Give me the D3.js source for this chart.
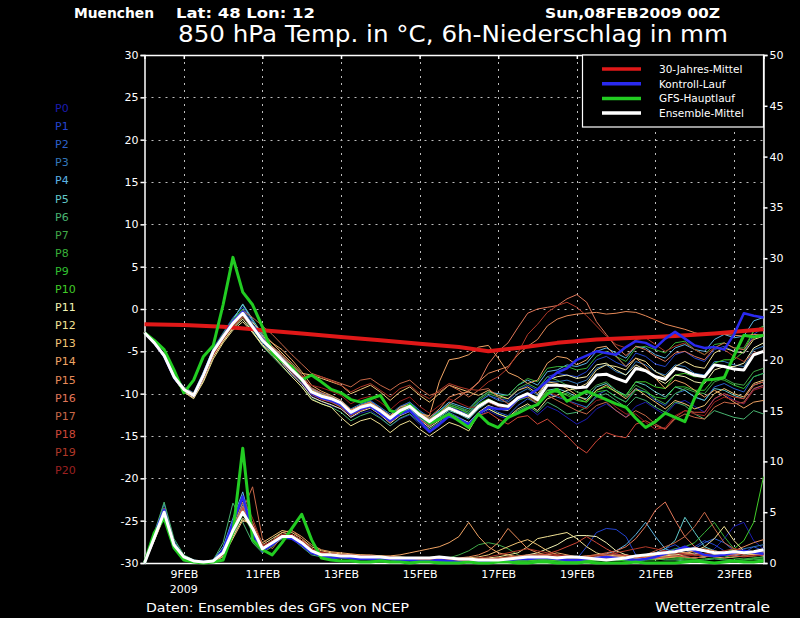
<!DOCTYPE html>
<html><head><meta charset="utf-8">
<script src="https://cdn.jsdelivr.net/npm/d3@7/dist/d3.min.js"></script>
<style>html,body{margin:0;padding:0;background:#000;}svg{display:block;}</style>
</head><body>
<svg id="c" width="800" height="618"></svg>
<script>
// ---------- data ----------
const stepHours = d3.range(0, 379, 6); // 6-hourly forecast steps 0..378 h
const dateTickHours = [24,72,120,168,216,264,312,360];
const dateTickLabels = ["9FEB","11FEB","13FEB","15FEB","17FEB","19FEB","21FEB","23FEB"];
const tempTicks = [30,25,20,15,10,5,0,-5,-10,-15,-20,-25,-30];
const precTicks = [50,45,40,35,30,25,20,15,10,5,0];
const memberNames = ["P0","P1","P2","P3","P4","P5","P6","P7","P8","P9","P10","P11","P12","P13","P14","P15","P16","P17","P18","P19","P20"];
const memberColors = ["#1c1cb0","#2444d0","#2c60cc","#3478bc","#5cb4e4","#60c8c8","#48b470","#40a848","#38b038","#30c030","#40cc28","#f4f4b4","#f2e294","#f2c474","#f0a464","#e88a58","#e07658","#c86848","#d04838","#b03828","#9c2020"];
const legendNames = ["30-Jahres-Mittel","Kontroll-Lauf","GFS-Hauptlauf","Ensemble-Mittel"];

const climaHours = [0,24,48,72,96,120,144,168,192,210,228,252,276,300,324,348,378];
const climaTemp  = [-1.8,-1.9,-2.1,-2.5,-2.9,-3.3,-3.7,-4.1,-4.5,-5.0,-4.6,-4.0,-3.6,-3.4,-3.2,-2.9,-2.4];

const meanTemp = [-2.8,-4.0,-5.5,-8.0,-9.5,-10.2,-7.8,-5.0,-3.3,-1.7,-0.5,-2.1,-3.7,-4.8,-6.0,-7.2,-8.3,-9.8,-10.3,-10.6,-11.1,-12.2,-11.6,-11.3,-12.0,-12.9,-12.0,-11.5,-12.5,-13.3,-12.5,-11.7,-12.2,-12.7,-11.5,-10.8,-11.3,-11.5,-10.5,-10.0,-10.7,-9.0,-9.0,-9.1,-9.3,-9.2,-7.8,-7.7,-8.2,-8.6,-7.0,-7.3,-8.0,-8.3,-7.0,-7.3,-7.8,-8.0,-6.6,-6.8,-7.1,-7.2,-5.4,-5.0];
const gfsTemp = [-2.8,-3.7,-4.8,-7.2,-9.9,-8.4,-5.6,-4.3,0.5,6.1,2.0,0.5,-2.1,-5.2,-6.2,-6.8,-8.4,-7.8,-8.6,-9.5,-9.9,-10.7,-11.0,-10.6,-10.2,-12.0,-12.3,-11.3,-12.5,-13.5,-13.0,-12.4,-13.2,-14.0,-12.4,-13.5,-14.0,-12.8,-12.3,-11.7,-11.3,-10.0,-9.5,-10.9,-10.3,-9.7,-10.2,-10.7,-11.2,-11.6,-12.9,-14.0,-13.3,-12.3,-12.8,-13.3,-10.5,-8.4,-8.3,-8.1,-5.5,-3.1,-3.3,-3.1];
const ctrlTemp = [-2.8,-4.0,-5.5,-8.0,-9.5,-10.2,-7.8,-5.0,-3.2,-1.5,-0.3,-2.0,-3.6,-4.8,-6.0,-7.2,-8.4,-9.9,-10.5,-10.8,-11.3,-12.4,-11.8,-11.5,-12.3,-13.2,-12.4,-12.0,-13.2,-14.5,-13.6,-12.6,-13.0,-13.6,-12.4,-11.6,-11.8,-11.8,-10.6,-10.2,-9.5,-8.5,-7.5,-7.0,-6.0,-5.5,-5.0,-5.2,-5.4,-4.5,-3.8,-4.0,-4.6,-3.5,-2.7,-3.5,-4.3,-4.6,-4.5,-4.8,-3.0,-0.5,-0.8,-1.0];

const tempP0 = [-2.8,-4.1,-5.8,-8.3,-9.7,-10.4,-8.2,-5.5,-3.6,-1.6,-0.3,-2.0,-4.0,-5.2,-6.4,-7.8,-8.8,-10.3,-10.9,-11.4,-11.8,-12.8,-12.3,-12.0,-12.8,-13.8,-13.0,-12.5,-13.6,-14.6,-13.8,-12.8,-13.2,-13.8,-12.6,-12.0,-12.6,-13.0,-12.2,-11.6,-12.5,-11.5,-12.0,-12.8,-13.6,-13.0,-11.8,-11.2,-12.0,-12.8,-11.5,-11.0,-11.8,-12.5,-11.2,-10.8,-11.5,-12.2,-10.6,-10.0,-10.8,-11.2,-9.5,-9.0];
const tempP1 = [-2.8,-3.9,-5.4,-7.8,-9.3,-10.0,-7.5,-4.6,-2.8,-1.0,0.2,-1.5,-3.3,-4.5,-5.8,-7.0,-8.0,-9.5,-10.0,-10.4,-11.0,-12.0,-11.3,-10.8,-11.6,-12.6,-11.6,-11.0,-12.0,-13.0,-12.2,-11.4,-12.0,-12.4,-11.0,-10.2,-10.6,-10.8,-9.6,-9.0,-9.6,-8.0,-7.6,-7.8,-8.0,-7.4,-6.0,-5.6,-6.3,-6.8,-5.2,-5.6,-6.5,-6.8,-5.4,-5.0,-5.8,-6.2,-4.8,-4.4,-5.0,-5.2,-3.0,-2.2];
const tempP2 = [-2.8,-4.0,-5.6,-8.1,-9.6,-10.1,-7.9,-5.2,-3.5,-2.0,-0.8,-2.4,-4.0,-5.0,-6.2,-7.5,-8.6,-10.0,-10.6,-11.0,-11.5,-12.5,-11.9,-11.5,-12.3,-13.3,-12.4,-11.8,-12.8,-13.8,-13.0,-12.2,-12.8,-13.4,-12.4,-11.6,-12.2,-12.6,-11.4,-10.6,-11.2,-10.0,-10.4,-10.8,-11.2,-11.6,-10.2,-9.6,-10.4,-11.0,-9.4,-9.8,-10.8,-11.4,-10.0,-9.6,-10.4,-10.8,-9.2,-8.8,-9.4,-9.8,-8.0,-7.6];
const tempP3 = [-2.8,-4.0,-5.3,-7.7,-9.2,-9.9,-7.4,-4.7,-3.0,-1.4,-0.2,-1.8,-3.4,-4.6,-5.7,-6.9,-8.0,-9.4,-9.9,-10.3,-10.8,-11.8,-11.2,-10.9,-11.6,-12.4,-11.5,-11.0,-12.0,-12.8,-12.0,-11.2,-11.6,-12.2,-11.0,-10.2,-10.8,-11.0,-10.0,-9.4,-10.2,-8.6,-8.6,-8.4,-8.8,-8.4,-7.0,-6.6,-7.4,-7.8,-6.2,-6.6,-7.4,-7.8,-6.6,-6.8,-7.6,-7.8,-6.2,-6.2,-6.6,-6.8,-4.8,-4.4];
const tempP4 = [-2.8,-4.1,-5.5,-7.9,-9.4,-10.2,-7.7,-4.8,-3.0,-1.2,0.5,-1.4,-3.2,-4.4,-5.6,-6.8,-8.0,-9.4,-10.0,-10.4,-11.0,-12.0,-11.4,-11.0,-11.8,-12.6,-11.8,-11.2,-12.2,-13.0,-12.0,-11.0,-11.4,-11.8,-10.6,-9.8,-10.0,-10.2,-9.0,-8.4,-9.0,-7.4,-7.2,-6.6,-6.8,-6.4,-5.0,-4.6,-5.2,-5.8,-4.4,-4.6,-5.4,-5.8,-4.6,-4.2,-4.8,-5.0,-3.6,-3.0,-3.4,-3.2,-1.4,-1.0];
const tempP5 = [-2.8,-4.0,-5.5,-8.1,-9.6,-10.3,-8.0,-5.1,-3.2,-1.3,0.6,-1.2,-3.0,-4.4,-5.8,-7.2,-8.4,-9.8,-10.4,-10.8,-11.4,-12.4,-11.8,-11.4,-12.2,-13.2,-12.3,-11.8,-12.9,-13.8,-12.8,-12.0,-12.4,-13.0,-11.8,-11.0,-11.5,-11.8,-10.8,-10.2,-11.0,-9.6,-9.4,-9.8,-10.4,-10.6,-9.2,-8.8,-9.6,-10.2,-8.6,-9.0,-9.8,-10.4,-9.2,-9.6,-10.4,-10.8,-9.4,-9.6,-10.2,-10.6,-9.0,-8.6];
const tempP6 = [-2.8,-4.0,-5.6,-8.2,-9.7,-10.2,-8.0,-5.2,-3.5,-2.0,-0.8,-2.6,-4.4,-5.6,-6.8,-8.0,-9.2,-10.6,-11.2,-11.6,-12.2,-13.2,-12.6,-12.2,-12.9,-13.8,-12.9,-12.4,-13.4,-14.2,-13.4,-12.6,-13.0,-13.6,-12.4,-11.8,-12.4,-12.8,-12.0,-11.4,-12.2,-11.0,-11.6,-12.4,-12.2,-11.6,-10.4,-10.0,-10.8,-11.6,-10.4,-10.8,-11.6,-12.2,-11.0,-11.4,-12.4,-13.0,-12.0,-12.4,-12.8,-13.0,-12.0,-12.4];
const tempP7 = [-2.8,-3.9,-5.4,-7.9,-9.4,-10.1,-7.6,-4.8,-3.0,-1.4,-0.2,-1.9,-3.6,-4.7,-5.9,-7.1,-8.2,-9.7,-10.2,-10.5,-11.0,-12.1,-11.5,-11.2,-12.0,-12.9,-12.0,-11.4,-12.4,-13.2,-12.2,-11.4,-11.8,-12.2,-10.8,-10.0,-10.4,-10.6,-9.4,-8.8,-9.4,-8.0,-8.4,-9.0,-9.8,-10.0,-9.0,-8.6,-9.6,-10.4,-9.0,-9.6,-10.6,-11.2,-10.0,-9.4,-9.8,-10.0,-8.6,-8.2,-8.8,-9.0,-7.4,-7.0];
const tempP8 = [-2.8,-4.1,-5.6,-8.0,-9.5,-10.2,-7.9,-5.2,-3.2,-1.5,-0.4,-2.2,-3.8,-4.9,-6.1,-7.3,-8.4,-9.9,-10.4,-10.7,-11.2,-12.2,-11.7,-11.3,-12.0,-12.8,-11.9,-11.3,-12.2,-13.0,-12.2,-11.2,-11.6,-12.0,-10.6,-9.8,-10.2,-10.2,-9.0,-8.2,-8.6,-7.0,-6.8,-6.8,-7.2,-7.0,-5.6,-5.0,-5.6,-6.2,-4.6,-4.4,-4.8,-5.2,-4.0,-3.8,-4.8,-5.4,-4.2,-4.0,-4.6,-4.6,-2.6,-2.0];
const tempP9 = [-2.8,-4.0,-5.5,-8.0,-9.6,-10.3,-7.9,-5.0,-3.1,-1.6,-0.6,-2.3,-3.9,-5.0,-6.2,-7.3,-8.4,-9.9,-10.5,-10.8,-11.3,-12.4,-11.8,-11.4,-12.1,-13.1,-12.2,-11.6,-12.6,-13.4,-12.6,-11.8,-12.2,-12.7,-11.6,-11.0,-11.4,-11.6,-10.8,-10.4,-11.2,-9.8,-9.8,-10.0,-10.6,-11.0,-9.8,-9.6,-10.4,-11.0,-9.6,-9.8,-10.4,-10.6,-9.2,-9.2,-9.6,-9.6,-8.2,-8.4,-9.0,-9.4,-8.0,-7.6];
const tempP10 = [-2.8,-4.0,-5.4,-7.8,-9.3,-10.0,-7.6,-4.8,-2.9,-1.2,0.0,-1.8,-3.5,-4.6,-5.8,-7.0,-8.1,-9.6,-10.1,-10.4,-11.0,-12.0,-11.4,-11.0,-11.8,-12.7,-11.8,-11.2,-12.2,-13.0,-12.2,-11.4,-11.8,-12.4,-11.2,-10.6,-11.2,-11.6,-10.6,-10.2,-11.0,-9.6,-9.8,-10.2,-10.8,-11.0,-9.6,-9.2,-9.8,-10.2,-8.6,-8.6,-9.2,-9.4,-7.8,-7.6,-8.0,-8.0,-6.4,-6.0,-6.0,-5.0,-2.6,-2.2];
const tempP11 = [-2.8,-4.0,-5.6,-8.1,-9.7,-10.5,-8.4,-5.6,-3.8,-2.3,-1.2,-2.7,-4.2,-5.2,-6.4,-7.7,-8.9,-10.4,-10.9,-11.3,-11.8,-12.8,-12.1,-11.7,-12.5,-13.5,-12.6,-12.1,-13.1,-14.0,-13.2,-12.4,-12.9,-13.4,-12.2,-11.4,-11.8,-12.0,-10.8,-10.0,-10.4,-8.4,-8.0,-7.8,-8.2,-8.0,-6.6,-6.4,-7.2,-7.8,-6.6,-7.2,-8.2,-8.8,-7.8,-8.0,-8.6,-8.8,-7.2,-6.8,-6.8,-6.4,-4.6,-4.0];
const tempP12 = [-2.8,-4.1,-5.7,-8.2,-9.8,-10.6,-8.6,-5.9,-4.0,-2.5,-1.5,-2.8,-4.3,-5.4,-6.7,-8.0,-9.2,-10.7,-11.2,-11.6,-12.8,-13.8,-13.2,-12.9,-13.6,-14.6,-13.7,-13.2,-14.2,-15.0,-14.2,-13.4,-13.8,-14.4,-12.4,-11.8,-12.4,-12.8,-11.8,-11.2,-12.0,-10.6,-10.2,-9.6,-9.4,-8.8,-7.2,-6.6,-6.8,-7.2,-5.8,-6.2,-7.4,-8.0,-6.8,-6.2,-6.8,-7.0,-5.2,-4.6,-5.0,-5.2,-3.6,-3.2];
const tempP13 = [-2.8,-4.0,-5.3,-7.8,-9.3,-10.0,-8.0,-5.6,-3.8,-2.2,-1.0,-1.6,-2.8,-4.0,-5.2,-6.4,-7.6,-7.8,-8.2,-8.6,-9.0,-10.0,-9.5,-9.0,-9.8,-10.8,-9.8,-9.2,-10.2,-11.0,-10.0,-9.0,-9.4,-9.8,-10.2,-9.6,-10.2,-10.6,-9.6,-9.2,-10.0,-8.6,-8.8,-9.4,-10.2,-10.8,-9.6,-9.0,-9.8,-10.6,-9.4,-10.2,-11.0,-11.8,-10.8,-11.2,-11.8,-11.4,-10.0,-9.4,-10.0,-10.4,-8.8,-8.4];
const tempP14 = [-2.8,-4.0,-5.4,-7.9,-9.4,-10.2,-7.8,-5.0,-3.2,-1.5,-0.4,-1.9,-3.2,-4.0,-4.8,-6.0,-7.4,-9.0,-9.7,-10.2,-10.8,-11.9,-11.4,-11.0,-11.8,-12.6,-11.6,-11.2,-12.4,-12.6,-8.6,-6.0,-5.8,-5.4,-4.5,-4.3,-5.8,-7.5,-8.0,-8.8,-8.4,-6.4,-5.6,-5.8,-6.6,-6.0,-4.6,-4.4,-5.6,-6.8,-5.8,-6.8,-8.2,-9.4,-8.4,-8.8,-9.6,-10.4,-9.6,-10.2,-11.0,-11.7,-11.0,-10.8];
const tempP15 = [-2.8,-3.9,-5.3,-7.8,-9.3,-10.1,-7.7,-4.9,-3.2,-1.6,-0.6,-2.0,-3.5,-4.5,-5.6,-6.8,-8.0,-9.5,-10.1,-10.5,-11.0,-12.0,-11.5,-11.2,-12.0,-12.8,-11.9,-11.4,-12.3,-12.8,-11.8,-10.4,-10.0,-9.8,-8.6,-7.6,-7.2,-6.8,-5.4,-4.4,-3.6,-2.0,-1.2,-0.8,-0.6,-0.5,-0.4,-0.6,-0.5,-0.3,-0.4,-0.8,-1.3,-1.8,-2.1,-2.4,-2.8,-3.1,-2.8,-3.0,-3.1,-3.2,-3.0,-3.1];
const tempP16 = [-2.8,-4.0,-5.5,-8.0,-9.5,-10.3,-8.0,-5.3,-3.4,-1.8,-0.7,-2.0,-3.4,-4.4,-5.4,-6.6,-7.8,-9.3,-9.9,-10.4,-11.0,-12.0,-11.4,-11.0,-11.8,-12.7,-11.8,-11.4,-12.4,-13.0,-12.4,-11.2,-10.4,-9.6,-8.7,-6.5,-5.0,-4.0,-2.2,-0.5,0.0,0.2,0.4,1.2,1.7,0.8,-1.5,-3.0,-4.5,-5.5,-4.4,-4.8,-5.6,-6.2,-5.2,-5.0,-5.6,-6.0,-4.6,-4.0,-4.6,-4.8,-3.4,-3.0];
const tempP17 = [-2.8,-4.0,-5.4,-7.9,-9.4,-10.0,-7.7,-5.0,-3.0,-1.4,-0.2,-1.0,-2.0,-3.0,-4.2,-5.4,-6.5,-7.6,-8.0,-8.4,-8.8,-9.2,-8.4,-8.2,-9.0,-9.6,-8.8,-8.4,-9.4,-10.2,-9.8,-9.0,-9.6,-10.4,-9.6,-9.4,-10.4,-11.2,-10.6,-10.4,-11.2,-10.2,-10.8,-11.4,-12.0,-12.4,-11.4,-11.0,-12.0,-12.8,-12.0,-12.6,-13.6,-14.2,-13.0,-12.4,-12.8,-13.0,-11.6,-11.0,-11.2,-11.0,-9.4,-9.0];
const tempP18 = [-2.8,-4.1,-5.6,-8.1,-9.6,-10.3,-8.0,-5.3,-3.4,-1.8,-0.6,-2.2,-3.8,-5.0,-6.2,-7.5,-8.6,-10.1,-10.7,-11.0,-11.6,-12.6,-12.0,-11.6,-12.4,-13.4,-12.5,-12.0,-13.0,-13.8,-13.0,-12.4,-13.0,-13.6,-12.6,-12.2,-13.0,-13.6,-12.8,-12.6,-13.6,-13.0,-14.0,-15.0,-16.2,-17.0,-15.6,-14.6,-15.0,-15.2,-13.6,-13.2,-13.8,-14.2,-12.8,-12.0,-12.2,-12.2,-10.6,-10.0,-10.4,-10.6,-9.0,-8.6];
const tempP19 = [-2.8,-4.0,-5.5,-8.0,-9.5,-10.2,-8.1,-5.4,-3.6,-2.0,-0.9,-2.3,-3.7,-4.8,-5.8,-7.0,-8.0,-7.8,-8.0,-8.5,-9.0,-9.8,-9.2,-8.8,-9.6,-10.4,-9.4,-9.0,-10.0,-10.6,-9.6,-8.8,-9.2,-9.5,-9.6,-8.6,-8.0,-7.0,-5.2,-3.0,-1.8,-0.4,0.4,0.8,0.2,-0.8,-2.0,-3.2,-4.2,-4.6,-3.6,-3.4,-4.2,-5.0,-4.4,-4.0,-4.8,-5.4,-4.6,-4.8,-5.6,-6.2,-5.2,-5.0];
const tempP20 = [-2.8,-4.0,-5.6,-8.1,-9.6,-10.4,-8.2,-5.4,-3.5,-1.9,-0.7,-2.1,-3.8,-4.9,-6.1,-7.4,-8.5,-9.0,-9.3,-9.7,-10.2,-11.2,-10.6,-10.3,-11.0,-11.9,-10.9,-10.4,-11.5,-12.3,-11.4,-10.6,-11.1,-11.6,-11.6,-11.0,-11.5,-11.8,-10.6,-10.2,-11.0,-9.8,-10.2,-10.8,-11.4,-11.8,-10.8,-10.6,-11.6,-12.4,-12.4,-13.4,-14.2,-14.0,-12.6,-12.0,-12.4,-12.6,-11.0,-10.4,-10.8,-11.2,-9.6,-9.2];

const meanPrec = [0,2.5,5.0,1.8,0.6,0.2,0.1,0.2,1.0,3.2,5.0,3.4,1.4,2.0,2.6,2.6,2.0,1.2,0.8,0.8,0.7,0.7,0.6,0.6,0.6,0.5,0.5,0.5,0.5,0.5,0.6,0.5,0.4,0.4,0.3,0.3,0.3,0.4,0.5,0.6,0.6,0.6,0.5,0.6,0.6,0.5,0.4,0.3,0.4,0.5,0.7,0.8,0.9,1.0,1.1,1.3,1.4,1.2,1.0,1.0,1.1,1.0,1.1,1.3];
const gfsPrec = [0,3.0,4.4,1.5,0.3,0.1,0.0,0.1,0.3,3.0,11.3,2.3,1.3,0.8,2.0,3.4,4.8,2.3,0.5,0.3,0.2,0.2,0.1,0.1,0.2,0.1,0.1,0.0,0.1,0.1,0.0,0.0,0.0,0.1,0.0,0.0,0.1,0.1,0.0,0.0,0.1,0.1,0.0,0.0,0.0,0.1,0.0,0.0,0.0,0.0,0.1,0.0,0.0,0.0,0.0,0.1,0.2,0.1,0.0,0.1,0.2,0.1,0.1,0.2];
const ctrlPrec = [0,2.8,5.2,1.6,0.5,0.2,0.1,0.2,1.2,4.0,6.5,3.0,1.2,1.8,2.6,2.4,1.8,1.0,0.7,0.5,0.6,0.5,0.4,0.4,0.5,0.4,0.3,0.3,0.2,0.2,0.3,0.2,0.1,0.1,0.1,0.2,0.2,0.3,0.4,0.4,0.5,0.5,0.4,0.3,0.3,0.4,0.5,0.6,0.5,0.4,0.3,0.4,0.6,0.9,1.2,1.6,1.2,0.8,0.7,0.8,1.0,1.2,1.0,0.9];

const precP0 = [0,2.6,5.4,1.9,0.6,0.2,0.1,0.2,1.4,4.2,6.7,2.8,1.0,2.0,2.8,2.6,1.8,1.0,0.7,0.6,0.6,0.5,0.5,0.4,0.5,0.4,0.3,0.3,0.2,0.2,0.3,0.2,0.2,0.1,0.1,0.1,0.2,0.2,0.3,0.3,0.4,0.5,0.4,0.3,0.3,0.4,0.5,0.8,0.9,0.6,0.4,0.5,0.8,1.2,1.4,1.0,0.8,0.6,1.4,2.4,3.6,4.0,2.2,1.4];
const precP1 = [0,2.2,4.8,1.6,0.5,0.2,0.0,0.1,0.8,2.6,5.0,3.4,1.6,2.2,2.8,2.6,2.0,1.2,0.8,0.7,0.7,0.6,0.6,0.5,0.6,0.5,0.4,0.4,0.3,0.3,0.3,0.2,0.2,0.2,0.1,0.1,0.1,0.2,0.2,0.3,0.4,0.3,0.3,0.2,0.4,1.6,3.0,3.4,3.3,2.6,0.8,0.6,1.0,1.4,1.8,1.2,1.6,2.2,1.8,1.2,0.8,1.0,1.6,1.2];
const precP2 = [0,2.5,5.0,1.8,0.6,0.2,0.1,0.2,1.0,3.4,5.6,3.0,1.2,1.8,2.4,2.4,1.8,1.0,0.8,0.7,0.6,0.6,0.5,0.5,0.6,0.5,0.4,0.3,0.3,0.3,0.4,0.3,0.2,0.2,0.2,0.1,0.2,0.3,0.3,0.4,0.5,0.4,0.3,0.3,0.2,0.3,0.3,0.4,0.6,0.8,0.6,0.5,0.7,0.9,1.2,1.0,1.4,2.0,2.4,2.0,1.2,0.9,1.1,1.4];
const precP3 = [0,2.8,5.8,2.2,0.7,0.3,0.1,0.2,1.2,3.6,5.8,3.2,1.4,2.0,2.6,2.6,2.0,1.2,0.9,0.8,0.7,0.6,0.6,0.5,0.5,0.4,0.4,0.3,0.3,0.3,0.3,0.2,0.2,0.2,0.2,0.1,0.1,0.2,0.3,0.4,0.4,0.5,0.4,0.3,0.3,0.2,0.3,0.4,0.4,0.5,0.6,0.5,0.7,0.8,0.9,1.0,0.8,0.7,0.8,1.0,1.2,1.4,1.6,1.8];
const precP4 = [0,2.7,5.4,2.0,0.6,0.2,0.1,0.3,1.6,4.4,7.0,3.4,1.2,1.8,2.6,2.8,2.2,1.4,1.0,0.9,0.8,0.7,0.7,0.6,0.6,0.5,0.5,0.4,0.3,0.3,0.3,0.3,0.2,0.2,0.2,0.2,0.3,0.3,0.4,0.4,0.5,0.4,0.4,0.3,0.3,0.4,0.6,0.9,1.2,1.8,2.8,4.0,2.6,1.4,1.0,0.8,0.9,1.2,1.0,0.8,0.7,0.9,1.0,1.2];
const precP5 = [0,2.4,5.0,1.8,0.5,0.2,0.1,0.2,1.0,3.2,5.4,3.6,1.4,2.0,2.8,2.6,2.0,1.2,0.9,0.8,0.7,0.6,0.6,0.5,0.5,0.5,0.4,0.4,0.3,0.3,0.4,0.3,0.3,0.2,0.2,0.2,0.2,0.3,0.4,0.5,0.5,0.6,0.5,0.4,0.4,0.3,0.4,0.5,0.5,0.6,0.7,0.8,1.0,1.4,2.2,4.5,3.0,1.6,1.2,1.0,0.9,0.8,0.9,1.0];
const precP6 = [0,3.0,6.0,2.4,0.8,0.3,0.1,0.3,2.0,5.9,4.0,2.0,1.0,1.6,2.4,2.4,1.6,0.8,0.6,0.5,0.5,0.4,0.4,0.3,0.3,0.3,0.2,0.2,0.2,0.1,0.1,0.1,0.1,0.1,0.1,0.1,0.1,0.2,0.2,0.2,0.3,0.2,0.2,0.1,0.1,0.2,0.2,0.3,0.3,0.2,0.2,0.3,0.4,0.3,0.3,0.2,0.2,0.3,0.4,0.3,0.2,0.3,0.4,0.3];
const precP7 = [0,2.3,4.8,1.7,0.5,0.2,0.0,0.1,0.7,2.8,4.8,3.0,1.4,2.2,2.8,2.6,2.0,1.2,0.8,0.7,0.6,0.6,0.5,0.5,0.5,0.4,0.4,0.3,0.3,0.3,0.4,0.5,0.8,1.2,1.8,2.0,1.8,1.4,0.8,0.5,0.4,0.3,0.3,0.2,0.2,0.3,0.3,0.4,0.5,0.4,0.3,0.4,0.5,0.6,0.5,0.4,0.5,0.6,0.8,0.7,0.5,0.4,0.5,0.6];
const precP8 = [0,2.6,5.2,1.8,0.6,0.2,0.1,0.2,1.1,3.4,5.2,3.0,1.2,1.8,2.4,2.4,1.8,1.0,0.7,0.6,0.6,0.5,0.5,0.4,0.4,0.4,0.3,0.3,0.2,0.2,0.2,0.2,0.1,0.1,0.1,0.1,0.2,0.2,0.2,0.3,0.3,0.4,0.3,0.3,0.2,0.2,0.3,0.3,0.4,0.4,0.5,0.6,0.8,1.0,1.4,1.6,2.0,3.0,4.0,2.6,1.4,0.8,0.6,0.5];
const precP9 = [0,2.5,5.2,1.9,0.6,0.2,0.1,0.2,0.9,3.0,5.0,3.2,1.3,2.0,2.6,2.6,2.0,1.2,0.8,0.7,0.6,0.6,0.5,0.5,0.4,0.4,0.3,0.3,0.3,0.2,0.2,0.2,0.2,0.1,0.1,0.1,0.1,0.1,0.2,0.2,0.2,0.3,0.3,0.2,0.2,0.2,0.3,0.3,0.3,0.2,0.2,0.3,0.3,0.4,0.4,0.3,0.3,0.4,0.5,0.4,0.3,0.3,0.4,0.4];
const precP10 = [0,2.4,4.8,1.7,0.5,0.2,0.0,0.1,0.8,2.8,4.8,3.2,1.4,2.2,2.8,2.8,2.2,1.4,1.0,0.8,0.7,0.6,0.5,0.5,0.5,0.4,0.3,0.3,0.3,0.2,0.2,0.2,0.1,0.1,0.1,0.1,0.1,0.2,0.2,0.2,0.3,0.3,0.2,0.2,0.2,0.3,0.3,0.4,0.4,0.3,0.3,0.4,0.4,0.5,0.6,0.5,0.5,0.6,0.8,1.0,1.4,2.2,4.0,8.5];
const precP11 = [0,2.4,4.9,1.8,0.6,0.2,0.1,0.2,0.9,3.2,5.0,3.4,1.4,2.0,2.6,2.8,2.2,1.4,1.0,0.9,0.8,0.7,0.6,0.6,0.6,0.5,0.5,0.4,0.4,0.3,0.3,0.3,0.2,0.2,0.2,0.3,0.4,0.5,0.6,0.8,1.0,1.4,1.8,2.4,2.7,2.7,2.6,2.0,1.2,0.8,0.6,0.5,0.5,0.6,0.7,0.6,0.5,0.6,0.8,1.0,1.2,1.0,0.8,0.7];
const precP12 = [0,2.3,4.7,1.7,0.5,0.2,0.1,0.1,0.7,2.6,4.4,3.6,1.8,2.4,3.0,2.8,2.2,1.4,1.0,0.9,0.8,0.7,0.7,0.6,0.6,0.5,0.5,0.5,0.4,0.4,0.4,0.3,0.3,0.3,0.4,0.5,0.6,0.8,1.0,1.6,2.4,2.6,2.8,3.0,2.4,1.6,1.0,0.7,0.5,0.4,0.4,0.5,0.6,0.7,0.8,0.9,1.2,1.6,2.4,3.6,2.2,1.2,0.9,0.8];
const precP13 = [0,2.2,4.5,1.6,0.5,0.2,0.0,0.1,0.6,2.4,4.2,3.8,2.0,2.6,3.2,3.0,2.4,1.6,1.2,1.0,0.9,0.8,0.8,0.7,0.7,0.6,0.6,0.5,0.5,0.4,0.4,0.4,0.4,0.5,0.6,0.8,1.2,1.6,2.0,2.3,1.8,1.2,0.8,0.6,0.5,0.5,0.6,0.8,0.7,0.6,0.5,0.6,0.8,1.0,1.2,1.0,0.8,0.7,0.8,1.0,1.2,1.0,0.8,0.9];
const precP14 = [0,2.5,5.0,1.8,0.6,0.2,0.1,0.2,1.0,3.4,5.4,3.6,1.6,2.2,3.0,3.2,2.6,1.8,1.3,1.1,1.0,0.9,0.8,0.8,0.7,0.7,0.8,1.0,1.2,1.4,1.6,2.0,2.6,4.0,2.6,1.6,1.0,0.8,0.6,0.5,0.6,0.8,1.0,0.8,0.6,0.5,0.5,0.6,0.7,0.8,0.6,0.5,0.4,0.5,0.6,0.8,1.0,0.8,0.6,0.5,0.6,0.7,0.8,0.9];
const precP15 = [0,2.6,5.3,1.9,0.6,0.2,0.1,0.2,1.1,3.6,6.0,3.4,1.4,2.0,2.8,2.8,2.2,1.4,1.0,0.9,0.8,0.8,0.7,0.7,0.6,0.6,0.5,0.5,0.5,0.4,0.4,0.4,0.5,0.6,0.8,1.2,2.0,3.4,2.4,1.4,1.0,0.8,0.7,0.6,0.6,0.7,0.8,0.7,0.6,0.5,0.5,0.6,0.7,0.8,0.9,1.0,1.2,1.4,1.2,1.0,1.2,1.6,2.0,2.3];
const precP16 = [0,2.4,5.0,1.8,0.6,0.2,0.1,0.2,1.0,3.2,5.6,4.0,1.6,2.0,2.6,2.8,2.2,1.4,1.0,0.9,0.8,0.7,0.7,0.6,0.6,0.5,0.5,0.4,0.4,0.4,0.3,0.3,0.3,0.3,0.4,0.4,0.5,0.6,0.7,0.8,0.8,0.7,0.6,0.5,0.5,0.6,0.8,1.0,1.2,1.6,2.4,3.6,5.2,6.0,4.2,2.6,1.6,1.2,1.0,0.9,0.8,0.9,1.0,1.1];
const precP17 = [0,2.4,5.0,1.8,0.6,0.2,0.1,0.1,0.8,3.0,5.2,7.5,2.4,1.4,2.6,3.2,2.4,1.4,1.0,0.8,0.7,0.7,0.6,0.6,0.5,0.5,0.5,0.4,0.4,0.3,0.3,0.3,0.3,0.3,0.4,0.4,0.5,0.5,0.6,0.7,0.8,0.8,0.7,0.6,0.6,0.7,0.8,0.9,0.8,0.7,0.7,0.8,1.2,1.6,2.0,2.6,3.6,5.0,3.4,2.0,1.4,1.2,1.0,0.9];
const precP18 = [0,2.5,5.1,1.8,0.6,0.2,0.1,0.2,1.0,3.2,5.4,3.6,1.6,2.2,2.8,2.8,2.2,1.4,1.0,0.9,0.8,0.7,0.7,0.6,0.6,0.5,0.5,0.4,0.4,0.4,0.3,0.3,0.3,0.3,0.3,0.4,0.4,0.5,0.5,0.6,0.7,0.9,1.2,1.6,2.0,2.6,2.0,1.4,0.9,0.7,0.6,0.5,0.5,0.6,0.7,0.6,0.5,0.6,0.7,0.8,0.7,0.6,0.7,0.8];
const precP19 = [0,2.6,5.4,2.0,0.6,0.2,0.1,0.2,1.2,3.8,6.4,4.4,1.8,2.0,2.6,2.6,2.0,1.2,0.9,0.8,0.7,0.6,0.6,0.5,0.5,0.5,0.4,0.4,0.4,0.3,0.3,0.3,0.3,0.4,0.5,0.6,0.8,1.0,1.2,1.4,1.2,1.0,0.8,0.7,0.6,0.6,0.7,0.8,1.0,1.2,1.4,1.6,1.4,1.2,1.0,0.9,0.8,0.9,1.0,1.2,1.4,1.2,1.0,0.9];
const precP20 = [0,2.3,4.8,1.7,0.5,0.2,0.1,0.1,0.8,3.0,5.0,3.8,1.6,2.2,2.8,2.8,2.2,1.4,1.1,0.9,0.8,0.8,0.7,0.7,0.6,0.6,0.5,0.5,0.4,0.4,0.4,0.3,0.3,0.3,0.3,0.3,0.4,0.4,0.5,0.5,0.6,0.7,0.8,0.7,0.6,0.5,0.5,0.4,0.4,0.5,0.6,0.8,1.0,1.2,1.0,0.8,0.7,0.8,1.0,1.2,1.0,0.8,0.7,0.8];

const memberTemps = [tempP0,tempP1,tempP2,tempP3,tempP4,tempP5,tempP6,tempP7,tempP8,tempP9,tempP10,tempP11,tempP12,tempP13,tempP14,tempP15,tempP16,tempP17,tempP18,tempP19,tempP20];
const memberPrecs = [precP0,precP1,precP2,precP3,precP4,precP5,precP6,precP7,precP8,precP9,precP10,precP11,precP12,precP13,precP14,precP15,precP16,precP17,precP18,precP19,precP20];

// ---------- drawing ----------
const svg = d3.select("#c");
const L = 144.5, R = 763.5, T = 55, B = 563;
const x = d3.scaleLinear().domain([0, 378]).range([L, R]);
const yT = d3.scaleLinear().domain([-30, 30]).range([B, T]);
const yP = d3.scaleLinear().domain([0, 50]).range([B, T]);
const FONT = "'DejaVu Sans', 'Liberation Sans', sans-serif";

svg.append("rect").attr("width",800).attr("height",618).attr("fill","#000");

// grid
const grid = svg.append("g").attr("stroke","#bdbdbd").attr("stroke-width",1).attr("stroke-dasharray","2,5");
tempTicks.filter(v => v > -30 && v < 30).forEach(v => {
  grid.append("line").attr("x1",L).attr("x2",R).attr("y1",Math.round(yT(v))+0.5).attr("y2",Math.round(yT(v))+0.5);
});
dateTickHours.forEach(h => {
  grid.append("line").attr("x1",Math.round(x(h))+0.5).attr("x2",Math.round(x(h))+0.5).attr("y1",T).attr("y2",B);
});

// axes
const axL = svg.append("g").attr("transform",`translate(${L},0)`)
  .call(d3.axisLeft(yT).tickValues(tempTicks).tickSize(4).tickFormat(d => String(d)));
const axR = svg.append("g").attr("transform",`translate(${R},0)`)
  .call(d3.axisRight(yP).tickValues(precTicks).tickSize(4).tickFormat(d => String(d)));
const axB = svg.append("g").attr("transform",`translate(0,${B})`)
  .call(d3.axisBottom(x).tickValues(dateTickHours).tickSize(0).tickPadding(7).tickFormat((d,i) => dateTickLabels[i]));
const axTop = svg.append("g").attr("transform",`translate(0,${T})`)
  .call(d3.axisTop(x).tickValues(dateTickHours).tickSize(-4).tickFormat(""));
[axL,axR,axB,axTop].forEach(a => {
  a.selectAll("path,line").attr("stroke","#fff").attr("stroke-width",1.5);
  a.selectAll("text").attr("fill","#fff").attr("font-family",FONT).attr("font-size",11);
});
axL.selectAll(".tick text").attr("x",-6);
axR.selectAll(".tick text").attr("x",6);
axB.append("text").attr("x",x(24)).attr("y",30).attr("fill","#fff").attr("font-family",FONT)
  .attr("font-size",11).attr("text-anchor","middle").text("2009");

// member lines
const lineT = (hrs) => d3.line().x((d,i) => x(hrs[i])).y(d => yT(d));
const lineP = (hrs) => d3.line().x((d,i) => x(hrs[i])).y(d => yP(d));
const plot = svg.append("g").attr("fill","none").attr("stroke-linejoin","round");
memberTemps.forEach((arr,k) => {
  plot.append("path").attr("d", lineT(stepHours)(arr)).attr("stroke", memberColors[k]).attr("stroke-width",1);
});
memberPrecs.forEach((arr,k) => {
  plot.append("path").attr("d", lineP(stepHours)(arr)).attr("stroke", memberColors[k]).attr("stroke-width",1);
});
// climatology
plot.append("path").attr("d", lineT(climaHours)(climaTemp)).attr("stroke","#e01818").attr("stroke-width",4);
// control
plot.append("path").attr("d", lineT(stepHours)(ctrlTemp)).attr("stroke","#2a2af0").attr("stroke-width",2.5);
plot.append("path").attr("d", lineP(stepHours)(ctrlPrec)).attr("stroke","#2a2af0").attr("stroke-width",2.5);
// GFS main run
plot.append("path").attr("d", lineT(stepHours)(gfsTemp)).attr("stroke","#22cc22").attr("stroke-width",3);
plot.append("path").attr("d", lineP(stepHours)(gfsPrec)).attr("stroke","#22cc22").attr("stroke-width",3);
// ensemble mean
plot.append("path").attr("d", lineT(stepHours)(meanTemp)).attr("stroke","#ffffff").attr("stroke-width",3);
plot.append("path").attr("d", lineP(stepHours)(meanPrec)).attr("stroke","#ffffff").attr("stroke-width",3);

// legend
const lg = svg.append("g");
lg.append("rect").attr("x",582.5).attr("y",55).attr("width",181).attr("height",72)
  .attr("fill","#000").attr("stroke","#fff").attr("stroke-width",1.2);
const legColors = ["#e01818","#2a2af0","#22cc22","#ffffff"];
legendNames.forEach((n,i) => {
  const yy = 69 + i*14.7;
  lg.append("line").attr("x1",602).attr("x2",641).attr("y1",yy).attr("y2",yy).attr("stroke",legColors[i]).attr("stroke-width",3.5);
  lg.append("text").attr("x",659).attr("y",yy+4).attr("fill","#fff").attr("font-family",FONT).attr("font-size",10.5).text(n);
});

// member labels
memberNames.forEach((n,i) => {
  svg.append("text").attr("x",55).attr("y",112 + i*18.1).attr("fill",memberColors[i])
    .attr("font-family",FONT).attr("font-size",11).text(n);
});

// header texts
const txt = (s, xx, yy, size, len, weight) => {
  const t = svg.append("text").attr("x",xx).attr("y",yy).attr("fill","#fff").attr("font-family",FONT)
    .attr("font-size",size).text(s);
  if (len) t.attr("textLength",len).attr("lengthAdjust","spacingAndGlyphs");
  if (weight) t.attr("font-weight",weight);
  return t;
};
txt("Muenchen", 74, 18, 13.5, 80, "bold");
txt("Lat: 48 Lon: 12", 176, 18, 13.5, 139, "bold");
txt("Sun,08FEB2009 00Z", 545, 18, 13.5, 175, "bold");
txt("850 hPa Temp. in °C, 6h-Niederschlag in mm", 178, 42, 23, 550);
txt("Daten: Ensembles des GFS von NCEP", 146, 612, 12, 263);
txt("Wetterzentrale", 655, 612, 14, 115);
</script>
</body></html>
